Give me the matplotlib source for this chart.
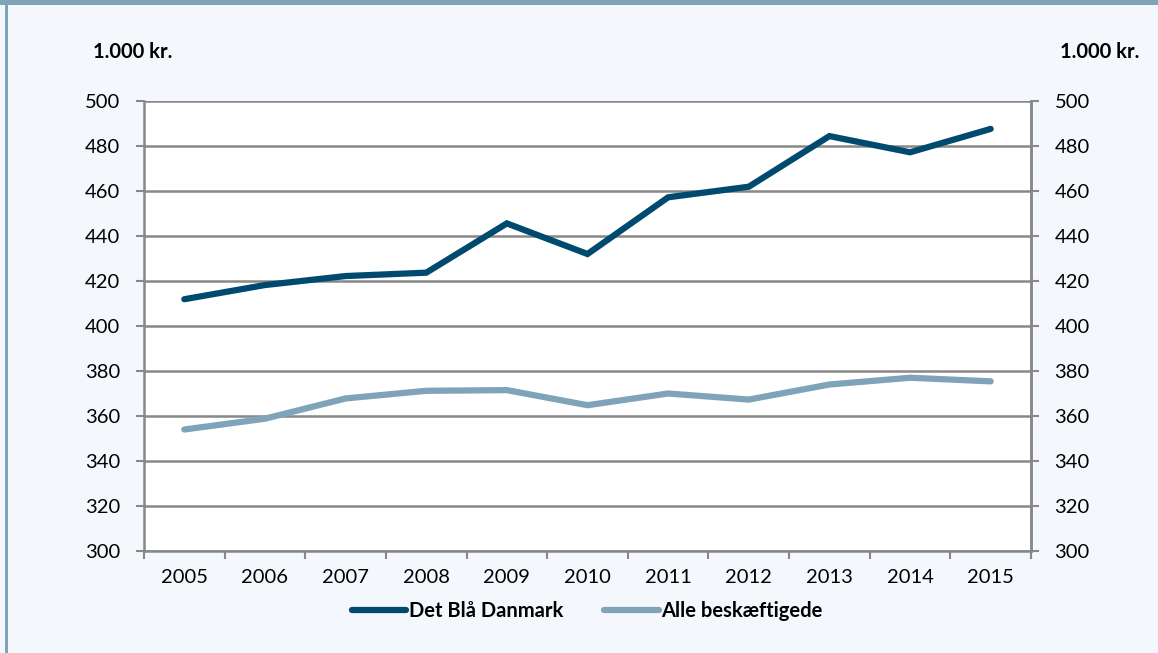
import matplotlib.pyplot as plt
from matplotlib.patches import Rectangle
import numpy as np

plt.rcParams['font.family'] = ['Lato', 'DejaVu Sans']

years = ['2005', '2006', '2007', '2008', '2009', '2010',
         '2011', '2012', '2013', '2014', '2015']
blaa_danmark = [411.9, 418.2, 422.2, 423.7, 445.6, 432.0,
                457.2, 461.9, 484.4, 477.2, 487.6]
alle_beskaeftigede = [354.0, 358.8, 367.8, 371.2, 371.5, 364.8,
                      370.0, 367.3, 374.0, 377.0, 375.4]
yticks = [300, 320, 340, 360, 380, 400, 420, 440, 460, 480, 500]

dark = '#004a70'
light = '#7fa3b8'
grid_col = '#888888'
bg = '#f4f8fc'

fig = plt.figure(figsize=(11.58, 6.53), dpi=100)
fig.patch.set_facecolor(bg)

# frame bands (top and left)
fig.add_artist(Rectangle((0, 1 - 5 / 653), 1, 5 / 653, transform=fig.transFigure,
                         facecolor=light, edgecolor='none'))
fig.add_artist(Rectangle((5 / 1158, 0), 3 / 1158, 1, transform=fig.transFigure,
                         facecolor=light, edgecolor='none'))

ax = fig.add_axes([144 / 1158, 1 - 551 / 653, 887 / 1158, 450 / 653])
ax.set_facecolor('white')
x = np.arange(len(years))

ax.plot(x, blaa_danmark, color=dark, lw=4.5, solid_capstyle='round',
        solid_joinstyle='miter', label='Det Blå Danmark', zorder=3)
ax.plot(x, alle_beskaeftigede, color=light, lw=4.5, solid_capstyle='round',
        solid_joinstyle='miter', label='Alle beskæftigede', zorder=3)

ax.set_xlim(-0.5, len(years) - 0.5)
ax.set_ylim(300, 500)
ax.set_yticks(yticks)
ax.tick_params(axis='y', length=6, width=1.5, color=grid_col, labelsize=14.5, pad=11)
ax.grid(axis='y', color=grid_col, lw=1.8, zorder=1)

ax.set_xticks(x)
ax.set_xticklabels(years)
ax.tick_params(axis='x', which='major', length=0, labelsize=14.5, pad=13)
ax.set_xticks(np.arange(-0.5, len(years)), minor=True)
ax.tick_params(axis='x', which='minor', length=6, width=1.5, color=grid_col)

ax.spines['top'].set_visible(False)
for s in ['left', 'right', 'bottom']:
    ax.spines[s].set_color(grid_col)
    ax.spines[s].set_linewidth(1.8)

ax2 = ax.twinx()
ax2.set_ylim(300, 500)
ax2.set_yticks(yticks)
ax2.tick_params(axis='y', length=6, width=1.5, color=grid_col, labelsize=14.5, pad=11)
for s in ['top', 'left', 'bottom']:
    ax2.spines[s].set_visible(False)
ax2.spines['right'].set_color(grid_col)
ax2.spines['right'].set_linewidth(1.8)

fig.text(93 / 1158, 1 - 52 / 653, '1.000 kr.', fontsize=14.5, fontweight='bold',
         va='center', ha='left')
fig.text(1139 / 1158, 1 - 52 / 653, '1.000 kr.', fontsize=14.5, fontweight='bold',
         va='center', ha='right')

leg = ax.legend(loc='upper center', bbox_to_anchor=(0.5, -0.07), ncol=2,
                frameon=False, handlelength=2.7, handletextpad=0.15,
                columnspacing=2.0, prop={'weight': 'bold', 'size': 14.5})
for t in leg.get_texts():
    t.set_fontweight('bold')

fig.savefig('out.png', dpi=100, facecolor=bg)
